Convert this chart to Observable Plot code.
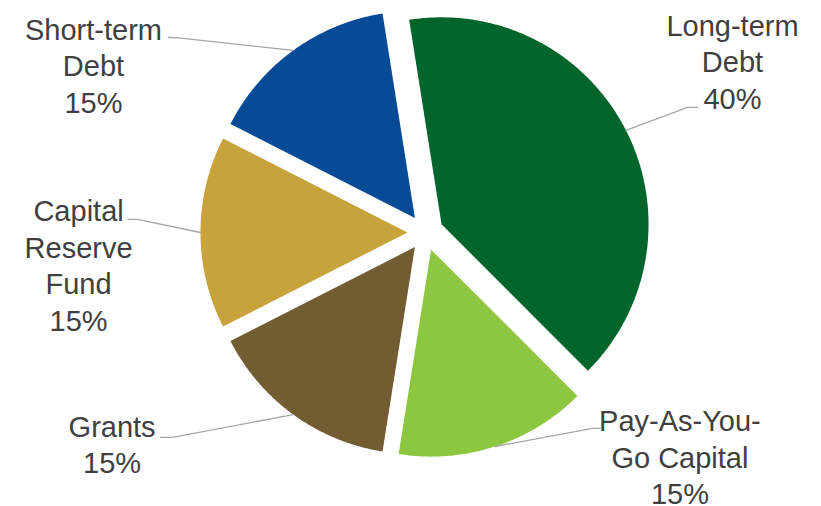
<!DOCTYPE html>
<html><head><meta charset="utf-8">
<script src="https://cdn.jsdelivr.net/npm/d3@7"></script>
<script src="https://cdn.jsdelivr.net/npm/@observablehq/plot@0.6"></script>
<style>html,body{margin:0;padding:0;background:#fff}#chart{width:821px;height:506px}</style>
</head><body><div id="chart"></div>
<script>
// ---- data ----
const categories = ["Long-term Debt", "Pay-As-You-Go Capital", "Grants", "Capital Reserve Fund", "Short-term Debt"];
const labelLines = [["Long-term", "Debt"], ["Pay-As-You-", "Go Capital"], ["Grants"], ["Capital", "Reserve", "Fund"], ["Short-term", "Debt"]];
const shares = [40, 15, 15, 15, 15];
const colors = ["#02652b", "#8dc63f", "#725c32", "#c8a23a", "#074a96"];

// ---- layout (radius units, origin at pie centre, y up) ----
const W = 821, H = 506, CX = 425, CY = 232, R = 207;
const EXPLODE = 0.087;
const START = -9 * Math.PI / 180;
const labelAnchor = [[1.483, 1.075], [1.229, -0.835], [-1.514, -0.862], [-1.676, 0.181], [-1.604, 1.056]];
const leaderStart = [[[1.314, 0.604], [1.266, 0.604]], [[0.845, -0.946], [0.807, -0.946]], [[-1.280, -0.990], [-1.222, -0.990]], [[-1.435, 0.063], [-1.391, 0.063]], [[-1.242, 0.942], [-1.193, 0.940]]];

const arcs = d3.pie().sort(null).value(d => d).startAngle(START).endAngle(START + 2 * Math.PI)(shares);

const slicePts = [];
const leaderPts = [];
const labels = [];
arcs.forEach((a, i) => {
  const mid = (a.startAngle + a.endAngle) / 2;
  const ox = EXPLODE * Math.sin(mid), oy = EXPLODE * Math.cos(mid);
  const cat = categories[i];
  slicePts.push({cat, x: ox, y: oy});
  const n = Math.max(2, Math.ceil((a.endAngle - a.startAngle) / (0.5 * Math.PI / 180)));
  for (let k = 0; k <= n; k++) {
    const t = a.startAngle + (a.endAngle - a.startAngle) * k / n;
    slicePts.push({cat, x: ox + Math.sin(t), y: oy + Math.cos(t)});
  }
  slicePts.push({cat, x: ox, y: oy});
  // leader line: label side -> elbow -> arc midpoint
  const [p0, p1] = leaderStart[i];
  leaderPts.push({cat, x: p0[0], y: p0[1]}, {cat, x: p1[0], y: p1[1]}, {cat, x: ox + Math.sin(mid), y: oy + Math.cos(mid)});
  labels.push({cat, x: labelAnchor[i][0], y: labelAnchor[i][1], text: [...labelLines[i], shares[i] + "%"].join("\n")});
});

const chart = Plot.plot({
  width: W, height: H,
  margin: 0,
  x: {domain: [-CX / R, (W - CX) / R], axis: null},
  y: {domain: [-(H - CY) / R, CY / R], axis: null},
  color: {domain: categories, range: colors},
  style: {background: "#fff"},
  marks: [
    Plot.line(slicePts, {x: "x", y: "y", z: "cat", fill: "cat", stroke: "none", curve: "linear"}),
    Plot.line(leaderPts, {x: "x", y: "y", z: "cat", stroke: "#a6a6a6", strokeWidth: 1.3}),
    Plot.text(labels, {x: "x", y: "y", text: "text", textAnchor: "middle", lineAnchor: "top", lineHeight: 1.26,
      fontSize: 29, fontFamily: "Liberation Sans, Arial, sans-serif", fill: "#404040"})
  ]
});
document.getElementById("chart").appendChild(chart);
</script>
</body></html>
